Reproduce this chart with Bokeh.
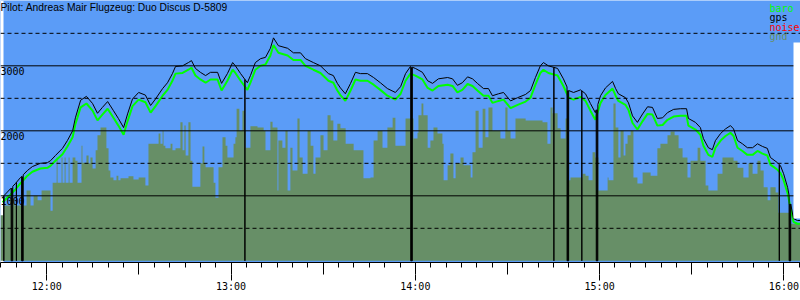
import numpy as np
from bokeh.plotting import figure
from bokeh.models import Range1d, Span, Label, LinearAxis, FixedTicker, BoxAnnotation
from bokeh.embed import file_html
from bokeh.resources import INLINE

# ---------------- data ----------------
title_text = "Pilot: Andreas Mair Flugzeug: Duo Discus D-5809"
series_names = ["baro", "gps", "noise", "gnd"]
series_colors = ["#00ff00", "#000000", "#ff0000", "#678f67"]

tick_minutes = [0, 60, 120, 180, 240]          # minutes after 12:00
tick_labels = ["12:00", "13:00", "14:00", "15:00", "16:00"]
alt_solid = [1000, 2000, 3000]
alt_dashed = [500, 1500, 2500, 3500]
alt_labels = ["1000", "2000", "3000"]

# flight track: minutes after 12:00, altitudes in m
track_t = [-14.4, -14.0, -11.8, -10.2, -8.6, -6.3, -4.7, -2.1, 0.2, 1.2,
           2.8, 5.1, 6.7, 8.4, 9.3, 11.0, 12.9, 14.9, 16.5, 18.1,
           19.8, 21.7, 23.3, 25.0, 26.3, 27.9, 29.9, 32.1, 33.8, 35.4,
           37.7, 39.3, 40.9, 41.9, 44.2, 46.1, 47.1, 48.4, 50.0, 51.7,
           53.3, 55.6, 56.9, 58.8, 60.5, 61.4, 63.1, 65.3, 66.3, 67.9,
           69.6, 71.2, 72.8, 73.8, 75.4, 78.4, 80.3, 82.6, 84.2, 86.8,
           89.1, 91.7, 93.3, 94.6, 95.6, 97.2, 98.9, 100.5, 102.1, 104.4,
           106.4, 108.6, 110.9, 113.5, 115.2, 116.8, 118.4, 120.0, 122.3, 124.0,
           125.6, 127.5, 130.5, 132.1, 133.7, 135.3, 137.0, 138.6, 140.2, 142.2,
           143.8, 145.1, 147.1, 148.7, 151.0, 153.3, 155.9, 157.5, 159.1, 160.7,
           161.7, 163.3, 166.3, 168.2, 169.9, 171.5, 173.8, 175.4, 177.0, 178.6,
           180.3, 181.9, 184.2, 185.2, 186.1, 188.4, 189.4, 190.7, 192.3, 194.0,
           195.6, 197.2, 198.8, 200.5, 202.1, 204.1, 206.3, 208.3, 208.9, 211.2,
           212.8, 213.8, 215.4, 216.7, 217.7, 219.4, 221.0, 222.6, 223.6, 224.9,
           226.5, 228.1, 229.8, 231.4, 233.0, 234.6, 235.6, 237.9, 238.9, 239.9,
           241.2, 242.2, 243.1, 244.4, 245.4]

gps_alt = [975, 1000, 1110, 1190, 1280, 1390, 1450, 1500, 1510, 1540,
           1620, 1730, 1850, 2000, 2200, 2470, 2530, 2420, 2270, 2360,
           2450, 2310, 2190, 2050, 2260, 2490, 2590, 2550, 2390, 2490,
           2650, 2740, 2880, 2990, 3000, 3050, 3080, 2960, 2900, 2850,
           2900, 2900, 2730, 2880, 3050, 3000, 2880, 2740, 2850, 3050,
           3110, 3130, 3270, 3430, 3310, 3270, 3200, 3200, 3110, 3050,
           3000, 2880, 2850, 2730, 2660, 2570, 2730, 2900, 2880, 2880,
           2820, 2740, 2650, 2590, 2680, 2880, 2990, 2960, 2900, 2770,
           2730, 2800, 2820, 2800, 2700, 2740, 2830, 2800, 2730, 2650,
           2650, 2540, 2570, 2590, 2460, 2510, 2560, 2620, 2820, 3000,
           3050, 3000, 2960, 2800, 2620, 2590, 2630, 2570, 2420, 2280,
           2540, 2660, 2760, 2650, 2570, 2510, 2430, 2230, 2130, 2260,
           2370, 2360, 2190, 2200, 2280, 2330, 2340, 2340, 2190, 2130,
           2050, 1880, 1740, 1710, 1850, 1960, 2030, 2080, 2030, 1850,
           1800, 1740, 1740, 1800, 1760, 1730, 1590, 1510, 1460, 1340,
           1130, 880, 650, 620, 620]

baro_alt = [900, 920, 1020, 1100, 1190, 1310, 1370, 1420, 1430, 1460,
            1540, 1640, 1760, 1900, 2100, 2360, 2420, 2310, 2160, 2250,
            2340, 2200, 2080, 1940, 2150, 2380, 2480, 2440, 2280, 2380,
            2540, 2630, 2770, 2880, 2890, 2940, 2970, 2850, 2790, 2740,
            2790, 2790, 2620, 2770, 2940, 2890, 2770, 2630, 2740, 2940,
            3000, 3020, 3160, 3320, 3200, 3160, 3090, 3090, 3000, 2940,
            2890, 2770, 2740, 2620, 2550, 2460, 2620, 2790, 2770, 2770,
            2710, 2630, 2540, 2480, 2570, 2770, 2880, 2850, 2790, 2660,
            2620, 2690, 2710, 2690, 2590, 2630, 2720, 2690, 2620, 2540,
            2540, 2430, 2460, 2480, 2350, 2400, 2450, 2510, 2710, 2890,
            2940, 2890, 2850, 2690, 2510, 2480, 2520, 2460, 2310, 2170,
            2430, 2550, 2650, 2540, 2460, 2400, 2320, 2120, 2020, 2150,
            2260, 2250, 2080, 2090, 2170, 2220, 2230, 2230, 2080, 2020,
            1940, 1770, 1630, 1600, 1740, 1850, 1920, 1970, 1920, 1740,
            1690, 1630, 1630, 1690, 1650, 1620, 1480, 1400, 1350, 1240,
            1040, 800, 600, 570, 570]

# gps signal drop-outs (minutes after 12:00)
dropout_start = [-14.0, -11.6, -9.9, -8.2, 64.5, 118.5, 165.1, 169.4, 174.2, 178.9, 238.5, 241.7]
dropout_end = [-14.0, -11.1, -9.9, -7.7, 64.5, 119.0, 165.1, 169.9, 174.2, 179.4, 238.5, 242.2]

# ground elevation under the track (step series, minutes after 12:00, m)
gnd_t = [-15.1, -14.1, -11.8, -10.5, -6.6, -5.3, -4.3, -3.0, -1.7, 1.2,
         1.9, 3.2, 3.5, 4.8, 5.1, 5.8, 6.1, 7.1, 7.4, 8.4,
         9.3, 10.0, 11.3, 11.6, 12.9, 13.6, 14.2, 14.9, 15.9, 16.5,
         17.5, 19.4, 20.1, 20.7, 21.7, 22.7, 23.3, 24.0, 26.6, 28.2,
         29.9, 32.1, 33.1, 36.4, 37.0, 37.7, 38.0, 38.6, 40.3, 40.9,
         41.9, 43.5, 44.2, 44.8, 45.2, 46.1, 46.8, 47.4, 50.0, 50.7,
         51.3, 51.7, 54.3, 54.9, 55.9, 57.2, 58.2, 58.8, 60.8, 61.4,
         61.8, 62.7, 63.7, 64.4, 64.7, 66.3, 68.6, 70.6, 71.2, 72.8,
         73.5, 75.1, 75.4, 76.7, 77.7, 78.4, 79.3, 80.0, 81.6, 82.3,
         83.3, 84.9, 85.9, 86.8, 87.5, 89.1, 90.1, 91.4, 92.4, 93.3,
         94.6, 95.6, 97.3, 99.9, 103.1, 105.4, 106.4, 107.7, 109.3, 110.9,
         112.6, 113.5, 115.2, 116.8, 119.4, 120.7, 121.0, 122.0, 122.6, 124.0,
         124.9, 125.9, 127.2, 128.8, 129.2, 130.5, 131.4, 132.4, 133.1, 134.7,
         135.7, 138.0, 138.6, 139.6, 140.6, 141.9, 142.8, 143.8, 145.1, 147.7,
         149.3, 150.0, 151.0, 152.6, 155.9, 161.4, 163.0, 164.0, 164.7, 166.3,
         167.3, 168.9, 169.9, 170.5, 174.4, 175.4, 176.4, 177.7, 178.6, 179.6,
         181.3, 182.6, 182.9, 184.5, 185.2, 186.1, 186.8, 187.8, 188.4, 189.1,
         190.1, 191.0, 192.3, 194.0, 196.6, 198.8, 199.8, 202.1, 203.1, 204.4,
         205.7, 207.0, 208.6, 209.6, 211.9, 212.8, 214.5, 215.4, 218.4, 220.0,
         223.6, 224.9, 226.8, 228.5, 229.8, 231.4, 232.4, 233.4, 234.7, 235.6,
         237.3, 238.2, 242.1, 245.4]

gnd_alt = [700, 850, 960, 850, 1080, 850, 1000, 930, 1080, 770,
           1200, 1590, 1200, 1590, 1200, 1590, 1200, 1590, 1200, 1590,
           1540, 1200, 1770, 1510, 1620, 1500, 1590, 1420, 1700, 1930,
           2050, 1730, 1390, 1280, 1240, 1310, 1240, 1270, 1300, 1250,
           1280, 1160, 1800, 1960, 1800, 2000, 1770, 1730, 1800, 1700,
           1730, 2130, 1700, 2080, 1620, 2130, 1540, 1140, 1500, 1760,
           1500, 1440, 1200, 970, 1440, 1900, 1770, 1590, 1800, 1900,
           2340, 2000, 2310, 2000, 1740, 2070, 2050, 2000, 1700, 2140,
           2050, 1080, 1850, 1740, 2000, 1080, 1740, 1390, 2190, 1590,
           1340, 2000, 1770, 1340, 1590, 1930, 1700, 2240, 2160, 1850,
           2110, 2040, 1800, 1700, 1270, 1280, 1850, 2000, 1740, 2050,
           2200, 1770, 1770, 2190, 1880, 1970, 2240, 2420, 2240, 1740,
           1850, 2050, 1960, 1800, 1240, 1470, 1650, 1270, 1500, 1590,
           1470, 1280, 1670, 2310, 1740, 2340, 1900, 2360, 2000, 1880,
           2360, 2000, 1880, 2190, 2160, 2130, 1800, 2360, 2270, 2040,
           1880, 2190, 1240, 1280, 1340, 1310, 1240, 1670, 1590, 1080,
           1080, 1280, 1240, 2420, 2050, 1590, 2000, 1620, 1800, 1930,
           2000, 1280, 1190, 1360, 1310, 1730, 1800, 1930, 1990, 1930,
           1730, 1590, 1280, 1540, 1740, 1540, 1160, 1080, 1340, 1590,
           1540, 1430, 1280, 1500, 1340, 1540, 1390, 1130, 930, 1130,
           1050, 740, 570, 570]

assert len(track_t) == len(gps_alt) == len(baro_alt)
assert len(gnd_t) == len(gnd_alt)

# ---------------- layout ----------------
W, H = 800, 300
FRAME_H = 262
X0, X1 = -15.08, 245.4
Y0, Y1 = -26.0, 4005.0
UPP_Y = (Y1 - Y0) / FRAME_H
UPP_X = (X1 - X0) / W


def xpx(px):
    return X0 + px * UPP_X


def ypx(px):
    return Y1 - px * UPP_Y


# gps line with drop-outs to zero
t_arr = np.array(track_t, dtype=float)
g_arr = np.array(gps_alt, dtype=float)
eps = 0.02
pts = []
for t, a in zip(track_t, gps_alt):
    if any(s - eps <= t <= e + eps for s, e in zip(dropout_start, dropout_end)):
        continue
    pts.append((t, a))
q_left, q_right, q_top = [], [], []
for s, e in zip(dropout_start, dropout_end):
    a0 = float(np.interp(s - eps, t_arr, g_arr))
    a1 = float(np.interp(e + eps, t_arr, g_arr))
    pts += [(s - eps, a0), (s, 0.0), (e, 0.0), (e + eps, a1)]
    if e > s:
        q_left.append(s)
        q_right.append(e)
        q_top.append(min(a0, a1))
pts.sort(key=lambda q: q[0])
gps_x = [q[0] for q in pts]
gps_y = [q[1] for q in pts]

p = figure(width=W, height=H, x_range=Range1d(X0, X1), y_range=Range1d(Y0, Y1),
           output_backend="svg", toolbar_location=None,
           x_axis_type=None, y_axis_type=None,
           min_border_left=0, min_border_right=0, min_border_top=0,
           min_border_bottom=H - FRAME_H,
           background_fill_color="#5b9cf7", border_fill_color="white",
           outline_line_color=None)

# white margin left of the sky area
p.add_layout(BoxAnnotation(right=xpx(3), fill_color="white", fill_alpha=1.0,
                           line_color=None, level="underlay"))

# ground
p.varea_step(x=gnd_t, y1=[0] * len(gnd_t), y2=gnd_alt, step_mode="after",
             fill_color=series_colors[3], fill_alpha=1.0)

# grid lines
for v in alt_solid:
    p.add_layout(Span(location=v, dimension="width", line_color="black", line_width=1))
for v in alt_dashed:
    p.add_layout(Span(location=v, dimension="width", line_color="black",
                      line_width=1, line_dash="4 3"))

# white margin right of the sky area (below the legend box)
p.add_layout(BoxAnnotation(left=xpx(793), top=ypx(42), bottom=ypx(218),
                           fill_color="white", fill_alpha=1.0, line_color=None))

# series
p.line(track_t, baro_alt, line_color=series_colors[0], line_width=2)
p.quad(left=q_left, right=q_right, bottom=[0] * len(q_left), top=q_top,
       fill_color="black", line_color=None)
p.line(gps_x, gps_y, line_color=series_colors[1], line_width=1)

# altitude labels
for v, s in zip(alt_solid, alt_labels):
    p.add_layout(Label(x=xpx(0), y=v - 1.5 * UPP_Y, text=s, text_baseline="top",
                       text_font="DejaVu Sans Mono", text_font_size="10px",
                       text_color="black"))

# title
p.add_layout(Label(x=xpx(0), y=ypx(1), text=title_text, text_baseline="top",
                   text_font="Liberation Sans", text_font_size="10.3px",
                   text_color="black"))

# legend texts
for i, (name, col) in enumerate(zip(series_names, series_colors)):
    p.add_layout(Label(x=xpx(769), y=ypx(2 + 9.6 * i), text=name, text_baseline="top",
                       text_font="DejaVu Sans Mono", text_font_size="10px",
                       text_color=col))

# time axis: 30-min major ticks + 5-min minor ticks, then hour ticks + labels
half_hours = list(range(0, 246, 30))
five_min = [m for m in range(-15, 246, 5)]
ax1 = LinearAxis(ticker=FixedTicker(ticks=half_hours, minor_ticks=five_min),
                 major_tick_out=12, major_tick_in=0, minor_tick_out=5, minor_tick_in=0,
                 major_tick_line_color="black", minor_tick_line_color="black",
                 axis_line_color="black", major_label_text_font_size="0px",
                 major_label_standoff=0,
                 major_label_overrides={m: "" for m in half_hours})
ax2 = LinearAxis(ticker=FixedTicker(ticks=tick_minutes, minor_ticks=[]),
                 major_tick_out=6, major_tick_in=0, minor_tick_out=0, minor_tick_in=0,
                 major_tick_line_color="black", axis_line_color=None,
                 major_label_overrides=dict(zip(tick_minutes, tick_labels)),
                 major_label_standoff=0, major_label_text_font="DejaVu Sans Mono",
                 major_label_text_font_size="10px", major_label_text_color="black")
p.add_layout(ax1, "below")
p.add_layout(ax2, "below")

open("out.html", "w").write(file_html(p, INLINE))
